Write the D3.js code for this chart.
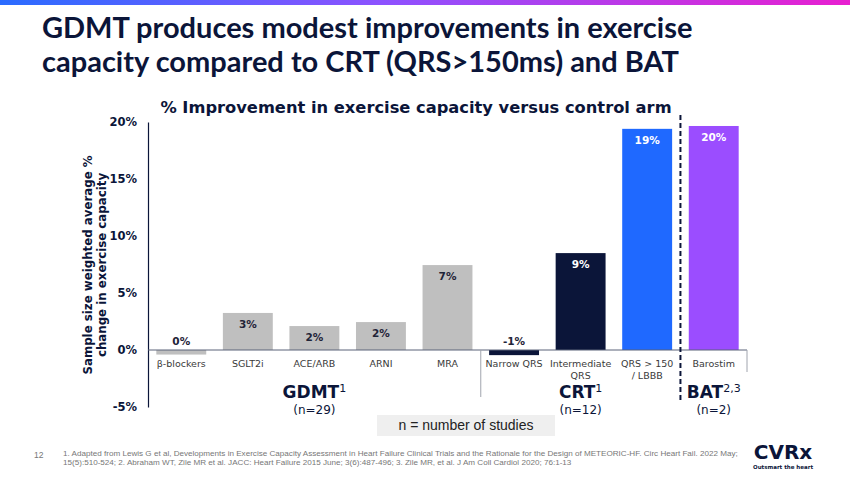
<!DOCTYPE html>
<html>
<head>
<meta charset="utf-8">
<script src="https://cdn.jsdelivr.net/npm/d3@7"></script>
<style>
  body { margin: 0; background: #fff; }
  svg { display: block; }
</style>
</head>
<body>
<svg id="chart" width="850" height="478"></svg>
<script>
// chart data
const categories = ["β-blockers", "SGLT2i", "ACE/ARB", "ARNI", "MRA", "Narrow QRS", "Intermediate QRS", "QRS > 150 / LBBB", "Barostim"];
const values = [-0.4, 3.25, 2.1, 2.45, 7.45, -0.45, 8.5, 19.4, 19.65];
const valueLabels = ["0%", "3%", "2%", "2%", "7%", "-1%", "9%", "19%", "20%"];
const groups = ["GDMT", "GDMT", "GDMT", "GDMT", "GDMT", "CRT", "CRT", "CRT", "BAT"];
const yTicks = [-5, 0, 5, 10, 15, 20];

const navy = "#0b1539";
const barColors = ["#bfbfbf", "#bfbfbf", "#bfbfbf", "#bfbfbf", "#bfbfbf", navy, navy, "#1f69ff", "#9b4dff"];

const svg = d3.select("#chart");

// top gradient strip
const defs = svg.append("defs");
const grad = defs.append("linearGradient").attr("id", "topbar");
grad.append("stop").attr("offset", "0%").attr("stop-color", "#2a6cff");
grad.append("stop").attr("offset", "45%").attr("stop-color", "#8d52ff");
grad.append("stop").attr("offset", "100%").attr("stop-color", "#e81fd0");
svg.append("rect").attr("x", 0).attr("y", 0).attr("width", 850).attr("height", 5).attr("fill", "url(#topbar)");

// slide title
const title = svg.append("text")
    .style("font-family", "Lato, 'Open Sans', sans-serif")
    .style("font-weight", "bold")
    .style("font-size", "29px")
    .attr("fill", navy);
title.append("tspan").attr("x", 42).attr("y", 38).text("GDMT produces modest improvements in exercise");
title.append("tspan").attr("x", 42).attr("y", 72).text("capacity compared to CRT (QRS>150ms) and BAT");

// chart title
svg.append("text")
    .attr("x", 416).attr("y", 113)
    .attr("text-anchor", "middle")
    .style("font-family", "'DejaVu Sans', sans-serif")
    .style("font-weight", "bold")
    .style("font-size", "16.3px")
    .attr("fill", navy)
    .text("% Improvement in exercise capacity versus control arm");

// scales
const x = d3.scaleBand().domain(categories).range([148, 747]).paddingInner(0.25).paddingOuter(0.125);
const y = d3.scaleLinear().domain([-5, 20]).range([407, 122]);

// y axis
const yAxis = d3.axisLeft(y).tickValues(yTicks).tickSize(0).tickPadding(11).tickFormat(d => d + "%");
const yg = svg.append("g").attr("transform", "translate(148,0)").call(yAxis);
yg.select(".domain").attr("stroke", navy).attr("stroke-width", 1.2);
yg.selectAll("text")
    .style("font-family", "'DejaVu Sans', sans-serif")
    .style("font-weight", "bold")
    .style("font-size", "11.5px")
    .attr("fill", navy);

// y axis title
const yt = svg.append("text")
    .attr("transform", "translate(0,265) rotate(-90)")
    .attr("text-anchor", "middle")
    .style("font-family", "'DejaVu Sans', sans-serif")
    .style("font-weight", "bold")
    .style("font-size", "11.8px")
    .attr("fill", navy);
yt.append("tspan").attr("x", 0).attr("y", 92).text("Sample size weighted average %");
yt.append("tspan").attr("x", 0).attr("y", 106).text("change in exercise capacity");

// bars
svg.append("g").selectAll("rect")
    .data(categories)
    .join("rect")
    .attr("x", d => x(d))
    .attr("width", x.bandwidth())
    .attr("y", (d, i) => y(Math.max(0, values[i])))
    .attr("height", (d, i) => Math.abs(y(values[i]) - y(0)))
    .attr("fill", (d, i) => barColors[i]);

// zero line
svg.append("line")
    .attr("x1", 148).attr("x2", 747)
    .attr("y1", y(0)).attr("y2", y(0))
    .attr("stroke", "#5a6378").attr("stroke-width", 1);

// value labels
svg.append("g").selectAll("text")
    .data(categories)
    .join("text")
    .attr("x", d => x(d) + x.bandwidth() / 2)
    .attr("y", (d, i) => values[i] < 1 ? y(0) - 5 : y(values[i]) + 15)
    .attr("text-anchor", "middle")
    .style("font-family", "'DejaVu Sans', sans-serif")
    .style("font-weight", "bold")
    .style("font-size", "10.5px")
    .attr("fill", (d, i) => (values[i] > 1 && groups[i] !== "GDMT") ? "#fff" : "#1f2438")
    .text((d, i) => valueLabels[i]);

// category labels
const catText = svg.append("g").selectAll("text")
    .data(categories)
    .join("text")
    .attr("x", d => x(d) + x.bandwidth() / 2)
    .attr("y", 367)
    .attr("text-anchor", "middle")
    .style("font-family", "'DejaVu Sans', sans-serif")
    .style("font-size", "9.5px")
    .attr("fill", "#3a3a3a");
catText.each(function (d) {
    let parts = d === "Intermediate QRS" ? ["Intermediate", "QRS"]
        : d === "QRS > 150 / LBBB" ? ["QRS > 150", "/ LBBB"] : [d];
    const t = d3.select(this);
    parts.forEach((p, k) => t.append("tspan").attr("x", x(d) + x.bandwidth() / 2).attr("dy", k ? 12 : 0).text(p));
});

// group separators
const sepX = x("Narrow QRS") - x.step() * x.paddingInner() / 2;
svg.append("line").attr("x1", sepX).attr("x2", sepX).attr("y1", y(0)).attr("y2", 397)
    .attr("stroke", "#a0a4ae").attr("stroke-width", 1);
svg.append("line").attr("x1", 747).attr("x2", 747).attr("y1", y(0)).attr("y2", 372)
    .attr("stroke", "#a0a4ae").attr("stroke-width", 1);
const dashX = x("Barostim") - x.step() * x.paddingInner() / 2;
svg.append("line").attr("x1", dashX).attr("x2", dashX).attr("y1", 115).attr("y2", 400)
    .attr("stroke", navy).attr("stroke-width", 2).attr("stroke-dasharray", "5,3");

// group labels
const groupInfo = [
    { name: "GDMT", sup: "1", n: "(n=29)", cats: ["ACE/ARB"] },
    { name: "CRT", sup: "1", n: "(n=12)", cats: ["Intermediate QRS"] },
    { name: "BAT", sup: "2,3", n: "(n=2)", cats: ["Barostim"] }
];
groupInfo.forEach(g => {
    const cx = x(g.cats[0]) + x.bandwidth() / 2;
    const gt = svg.append("text")
        .attr("x", cx).attr("y", 398)
        .attr("text-anchor", "middle")
        .style("font-family", "'DejaVu Sans', sans-serif")
        .style("font-weight", "bold")
        .style("font-size", "17px")
        .attr("fill", navy);
    gt.append("tspan").text(g.name);
    gt.append("tspan").attr("dy", -6).style("font-size", "11px").style("font-weight", "normal").text(g.sup);
    svg.append("text")
        .attr("x", cx).attr("y", 414)
        .attr("text-anchor", "middle")
        .style("font-family", "'DejaVu Sans', sans-serif")
        .style("font-size", "12px")
        .attr("fill", navy)
        .text(g.n);
});

// n = number of studies box
svg.append("rect").attr("x", 377).attr("y", 415).attr("width", 178).attr("height", 21).attr("fill", "#efefef");
svg.append("text")
    .attr("x", 466).attr("y", 430)
    .attr("text-anchor", "middle")
    .style("font-family", "'Liberation Sans Narrow', 'Liberation Sans', sans-serif")
    .style("font-size", "14px")
    .attr("fill", "#222")
    .text("n = number of studies");

// footer
svg.append("text").attr("x", 34).attr("y", 458)
    .style("font-family", "'Liberation Sans Narrow', 'Liberation Sans', sans-serif")
    .style("font-size", "8.5px").attr("fill", "#777").text("12");
const foot = svg.append("text")
    .style("font-family", "'Liberation Sans Narrow', 'Liberation Sans', sans-serif")
    .style("font-size", "8.1px").attr("fill", "#777");
foot.append("tspan").attr("x", 63).attr("y", 456)
    .text("1. Adapted from Lewis G et al, Developments in Exercise Capacity Assessment in Heart Failure Clinical Trials and the Rationale for the Design of METEORIC-HF. Circ Heart Fail. 2022 May;");
foot.append("tspan").attr("x", 63).attr("y", 465)
    .text("15(5):510-524; 2. Abraham WT, Zile MR et al. JACC: Heart Failure 2015 June; 3(6):487-496; 3. Zile MR, et al.  J Am Coll Cardiol 2020; 76:1-13");

// logo
svg.append("text").attr("x", 783).attr("y", 459).attr("text-anchor", "middle")
    .style("font-family", "'DejaVu Sans', sans-serif").style("font-weight", "bold")
    .style("font-size", "20px").attr("fill", navy).text("CVRx");
svg.append("text").attr("x", 783).attr("y", 469).attr("text-anchor", "middle")
    .style("font-family", "'DejaVu Sans', sans-serif").style("font-weight", "bold")
    .style("font-size", "5.5px").attr("fill", navy).text("Outsmart the heart");
</script>
</body>
</html>
